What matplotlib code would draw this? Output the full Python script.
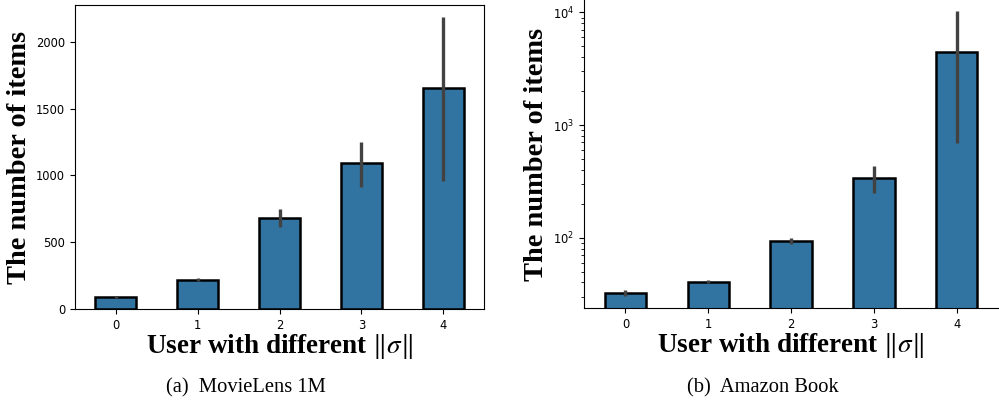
import matplotlib
matplotlib.use("Agg")
from matplotlib import pyplot as plt
import numpy as np

groups = [0, 1, 2, 3, 4]

# MovieLens 1M
ml_mean = [93, 217, 684, 1091, 1658]
ml_low = [83, 207, 616, 916, 959]
ml_high = [100, 230, 749, 1253, 2185]

# Amazon Book
ab_mean = [32.4, 40.6, 93.5, 337, 4450]
ab_low = [30.5, 39.5, 87.4, 251, 698]
ab_high = [34.3, 42.0, 99.0, 434, 10360]

bar_color = "#3274a1"
err_color = "#424242"

fig = plt.figure(figsize=(9.99, 4.05), dpi=100)
ax1 = fig.add_axes([75 / 999, 96 / 405, 409 / 999, 304 / 405])
ax2 = fig.add_axes([584 / 999, 96.7 / 405, 414 / 999, 308.3 / 405])


def draw(ax, mean, low, high):
    mean = np.array(mean)
    yerr = [mean - np.array(low), np.array(high) - mean]
    ax.bar(groups, mean, width=0.5, color=bar_color, edgecolor="black",
           linewidth=1.8, yerr=yerr,
           error_kw=dict(ecolor=err_color, elinewidth=2.4, capsize=0))
    ax.set_xlim(-0.5, 4.5)
    ax.set_xticks(groups)
    ax.tick_params(labelsize=8.3)
    ax.set_xlabel(r"User with different $\|\sigma\|$", family="Liberation Serif",
                  fontweight="bold", fontsize=19.5, math_fontfamily="stix",
                  labelpad=0)
    ax.set_ylabel("The number of items", family="Liberation Serif",
                  fontweight="bold", fontsize=20.4, labelpad=3)


draw(ax1, ml_mean, ml_low, ml_high)
ax1.set_ylim(0, 2277)

draw(ax2, ab_mean, ab_low, ab_high)
ax2.set_yscale("log")
ax2.set_ylim(23.6, 10 ** 4.11)
ax2.spines["top"].set_visible(False)
ax2.spines["right"].set_visible(False)

fig.text(246 / 999, 1 - 388 / 405, "(a)  MovieLens 1M", family="Liberation Serif",
         fontsize=14.8, ha="center", va="center")
fig.text(763 / 999, 1 - 388 / 405, "(b)  Amazon Book", family="Liberation Serif",
         fontsize=14.8, ha="center", va="center")

fig.savefig("out.png", dpi=100)
